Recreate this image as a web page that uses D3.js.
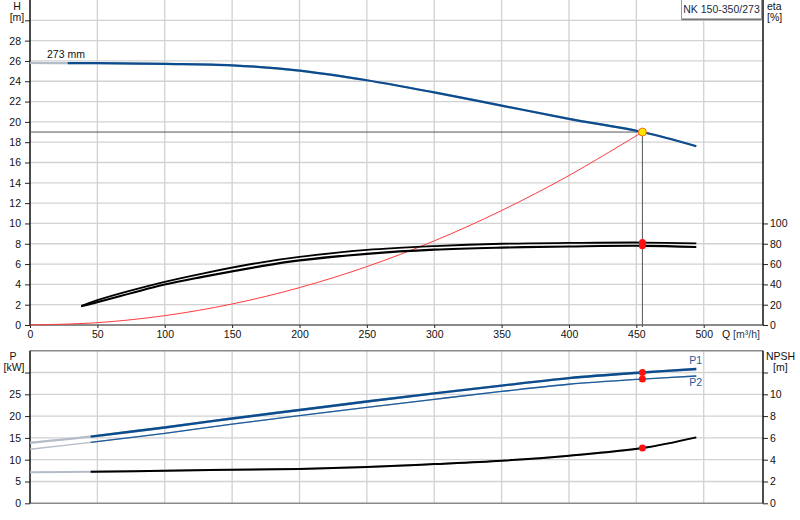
<!DOCTYPE html>
<html>
<head>
<meta charset="utf-8">
<script src="https://cdn.jsdelivr.net/npm/d3@7"></script>
<style>
  body { margin: 0; background: #fff; }
  svg { display: block; font-family: "Liberation Sans", Arial, sans-serif; }
</style>
</head>
<body>
<svg id="chart" width="800" height="520"></svg>
<script>
// pump curve readings (Q in m³/h)
var qHead = [0, 28, 50, 100, 150, 200, 250, 300, 350, 400, 454.5, 494.5];
var headM = [25.8, 25.79, 25.78, 25.71, 25.57, 25.05, 24.1, 22.9, 21.6, 20.3, 19.0, 17.6];

var qEta = [38, 50, 100, 128, 171, 200, 250, 300, 350, 400, 454.5, 494.5];
var eta1 = [18.6, 24.5, 42.5, 50.7, 61.5, 67.0, 73.9, 77.7, 80.0, 80.8, 81.2, 80.3];
var eta2 = [18.6, 22.5, 39.9, 47.4, 57.8, 63.6, 70.1, 74.2, 76.2, 77.3, 78.0, 76.8];

var qSystem = [0, 50, 100, 150, 200, 250, 300, 350, 400, 454.5];
var systemH = [0, 0.23, 0.92, 2.07, 3.68, 5.75, 8.28, 11.27, 14.72, 19.0];

var qPower = [0, 45, 100, 150, 200, 250, 300, 350, 400, 454.5, 494.5];
var powerP1 = [13.9, 15.3, 17.4, 19.45, 21.4, 23.35, 25.2, 27.0, 28.7, 30.0, 30.8];
var powerP2 = [12.4, 13.95, 16.05, 18.15, 20.1, 22.0, 23.85, 25.65, 27.3, 28.5, 29.2];
var npshM = [2.84, 2.89, 2.99, 3.08, 3.15, 3.33, 3.6, 3.91, 4.37, 5.07, 6.05];

// duty point
var dutyQ = 454.5;
var dutyH = 19.0;
var dutyEta = [81.2, 78.0];
var dutyP = [30.0, 28.5];
var dutyNpsh = 5.07;

// tick labels
var qTicks = [0, 50, 100, 150, 200, 250, 300, 350, 400, 450, 500];
var hTicks = [0, 2, 4, 6, 8, 10, 12, 14, 16, 18, 20, 22, 24, 26, 28, 30];
var etaTicks = [0, 20, 40, 60, 80, 100];
var pTicks = [0, 5, 10, 15, 20, 25, 30];
var npshTicks = [0, 2, 4, 6, 8, 10, 12];

var pumpName = "NK 150-350/273";
var impeller = "273 mm";

var svg = d3.select("#chart");
var left = 30, right = 763;
var blue = "#0b4c8e";

var x = d3.scaleLinear().domain([0, 544]).range([left, right]);
var yH = d3.scaleLinear().domain([0, 32]).range([325, 0]);
var yEta = d3.scaleLinear().domain([0, 100]).range([325, yH(10)]);
var yP = d3.scaleLinear().domain([0, 35]).range([503.3, 350.7]);
var yN = d3.scaleLinear().domain([0, 14]).range([503.3, 350.7]);

function pairs(qs, vs) {
	return qs.map(function(q, i) { return [q, vs[i]]; });
}

function curve(qs, vs, y, color, width, fromQ) {
	var line = d3.line()
		.x(function(d) { return x(d[0]); })
		.y(function(d) { return y(d[1]); })
		.curve(d3.curveCatmullRom.alpha(0.5));
	var data = pairs(qs, vs);
	if (fromQ !== undefined) {
		// extrapolated part drawn pale
		svg.append("path").attr("d", line(data))
			.attr("fill", "none").attr("stroke", "#b4bcc8").attr("stroke-width", width);
		data = data.filter(function(d) { return d[0] >= fromQ; });
	}
	return svg.append("path").attr("d", line(data))
		.attr("fill", "none").attr("stroke", color).attr("stroke-width", width)
		.attr("stroke-linejoin", "round");
}

function text(t, tx, ty, anchor, size, color) {
	return svg.append("text").attr("x", tx).attr("y", ty)
		.attr("text-anchor", anchor || "start")
		.attr("font-size", size || 10.5)
		.attr("fill", color || "#111")
		.text(t);
}

// grids
var grid = svg.append("g").attr("stroke", "#d2d2d2").attr("stroke-width", 1.3);
qTicks.slice(1).forEach(function(q) {
	grid.append("line").attr("x1", x(q)).attr("x2", x(q)).attr("y1", 0).attr("y2", 325);
	grid.append("line").attr("x1", x(q)).attr("x2", x(q)).attr("y1", 351).attr("y2", 503);
});
hTicks.slice(1).forEach(function(h) {
	grid.append("line").attr("x1", left).attr("x2", right).attr("y1", yH(h)).attr("y2", yH(h));
});
pTicks.slice(1).forEach(function(p) {
	grid.append("line").attr("x1", left).attr("x2", right).attr("y1", yP(p)).attr("y2", yP(p));
});

// frame lines
svg.append("line").attr("x1", left).attr("x2", right).attr("y1", 325).attr("y2", 325)
	.attr("stroke", "#8a8a8a").attr("stroke-width", 2);
svg.append("line").attr("x1", left).attr("x2", right).attr("y1", 503.3).attr("y2", 503.3)
	.attr("stroke", "#8a8a8a").attr("stroke-width", 1.5);
svg.append("line").attr("x1", left).attr("x2", right).attr("y1", 350.7).attr("y2", 350.7)
	.attr("stroke", "#8a8a8a").attr("stroke-width", 1.5);

// axes
var axisH = d3.axisLeft(yH).tickValues(hTicks).tickSize(5).tickPadding(4)
	.tickFormat(function(d) { return d === 30 ? "" : d; });
svg.append("g").attr("transform", "translate(" + left + ",0)").call(axisH);
var axisEta = d3.axisRight(yEta).tickValues(etaTicks).tickSize(5).tickPadding(2);
svg.append("g").attr("transform", "translate(" + right + ",0)").call(axisEta);
var axisQ = d3.axisBottom(x).tickValues(qTicks).tickSize(3).tickPadding(3);
svg.append("g").attr("transform", "translate(0,325)").call(axisQ);
var axisP = d3.axisLeft(yP).tickValues(pTicks).tickSize(5).tickPadding(4)
	.tickFormat(function(d) { return d === 30 ? "" : d; });
svg.append("g").attr("transform", "translate(" + left + ",0)").call(axisP);
var axisN = d3.axisRight(yN).tickValues(npshTicks).tickSize(5).tickPadding(2)
	.tickFormat(function(d) { return d === 12 ? "" : d; });
svg.append("g").attr("transform", "translate(" + right + ",0)").call(axisN);

svg.selectAll(".tick text").attr("font-size", 10.5).attr("fill", "#111")
	.attr("font-family", "Liberation Sans, Arial, sans-serif");
svg.selectAll(".domain").remove();
svg.selectAll("g .tick line").attr("stroke", "#222");

// axis spines
[[0, 325], [350.7, 503.3]].forEach(function(r) {
	svg.append("line").attr("x1", left).attr("x2", left).attr("y1", r[0]).attr("y2", r[1])
		.attr("stroke", "#111").attr("stroke-width", 1.5);
	svg.append("line").attr("x1", right).attr("x2", right).attr("y1", r[0]).attr("y2", r[1])
		.attr("stroke", "#111").attr("stroke-width", 1.5);
});

// axis titles
text("H", 17, 10, "middle");
text("[m]", 17, 21, "middle");
text("eta", 767, 10);
text("[%]", 767, 21);
text("P", 13, 360, "middle");
text("[kW]", 14, 371, "middle");
text("NPSH", 766, 360);
text("[m]", 773, 371);
var qLabel = text("Q ", 722, 338);
qLabel.append("tspan").attr("fill", "#2a3a55").text("[m³/h]");

// duty point guide lines
svg.append("line").attr("x1", left).attr("x2", x(dutyQ)).attr("y1", yH(dutyH)).attr("y2", yH(dutyH))
	.attr("stroke", "#555").attr("stroke-width", 1);
svg.append("line").attr("x1", x(dutyQ)).attr("x2", x(dutyQ)).attr("y1", yH(dutyH)).attr("y2", 327)
	.attr("stroke", "#555").attr("stroke-width", 1);

// curves
curve(qSystem, systemH, yH, "#ff3b3b", 1);
curve(qEta, eta2, yEta, "#000", 2.2);
curve(qEta, eta1, yEta, "#000", 1.8);
curve(qHead, headM, yH, blue, 2.2, 28);
curve(qPower, npshM, yN, "#000", 2, 45);
curve(qPower, powerP2, yP, "#1c5c9e", 1.3, 45);
curve(qPower, powerP1, yP, blue, 2.4, 45);

text(impeller, 47, 58);
text("P1", 702, 364, "end", 10.5, "#1c5c9e");
text("P2", 702, 386, "end", 10.5, "#1c5c9e");

// duty point markers
dutyEta.forEach(function(e) {
	svg.append("circle").attr("cx", x(dutyQ)).attr("cy", yEta(e)).attr("r", 3.5).attr("fill", "#ff1010");
});
dutyP.forEach(function(p) {
	svg.append("circle").attr("cx", x(dutyQ)).attr("cy", yP(p)).attr("r", 3.5).attr("fill", "#ff1010");
});
svg.append("circle").attr("cx", x(dutyQ)).attr("cy", yN(dutyNpsh)).attr("r", 3.5).attr("fill", "#ff1010");
svg.append("circle").attr("cx", x(dutyQ)).attr("cy", yH(dutyH)).attr("r", 4)
	.attr("fill", "#ffe400").attr("stroke", "#f07020").attr("stroke-width", 1);

// name box
svg.append("rect").attr("x", 681.5).attr("y", -1).attr("width", 80).attr("height", 20)
	.attr("fill", "#fff").attr("stroke", "#9a9a9a");
svg.append("line").attr("x1", 681.5).attr("x2", 761.5).attr("y1", 19.5).attr("y2", 19.5)
	.attr("stroke", "#777").attr("stroke-width", 1.5);
text(pumpName, 721.5, 13, "middle", 10.5, "#1a2a44");
</script>
</body>
</html>
